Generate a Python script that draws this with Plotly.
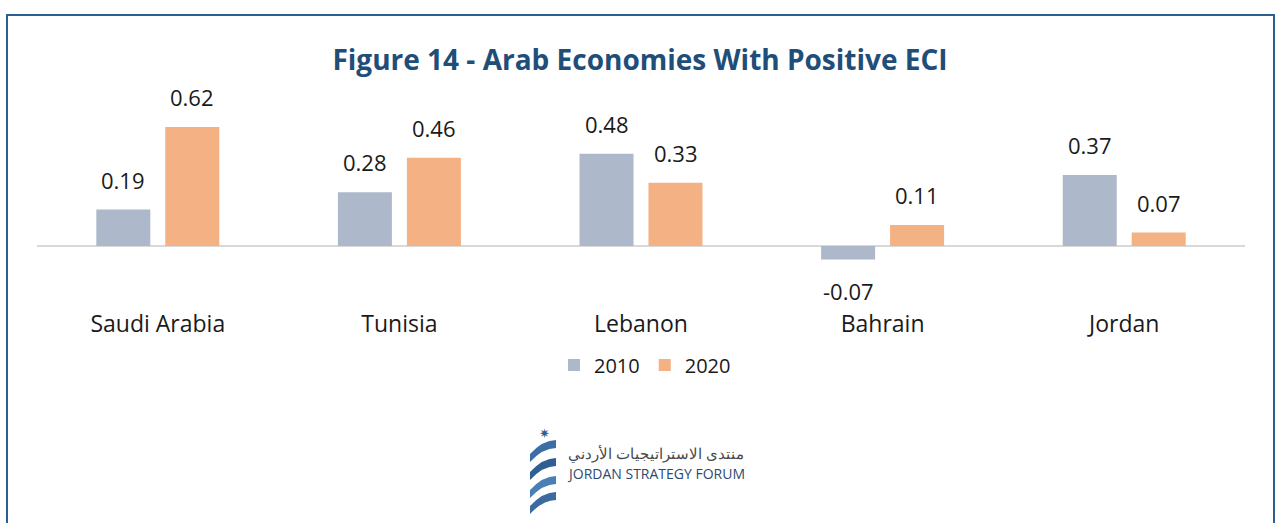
import plotly.graph_objects as go

categories = ["Saudi Arabia", "Tunisia", "Lebanon", "Bahrain", "Jordan"]
values_2010 = [0.19, 0.28, 0.48, -0.07, 0.37]
values_2020 = [0.62, 0.46, 0.33, 0.11, 0.07]
series_names = ["2010", "2020"]

COLOR_2010 = "#adb9ca"
COLOR_2020 = "#f4b183"
TITLE_COLOR = "#1f4e79"
FONT = "Open Sans"

W, H = 1276, 523

plot_top, plot_bottom = 90, 305          # page pixels
plot_left, plot_right = 37, 1245
zero_y = 246
px_per_unit = 192.0
y_max = (zero_y - plot_top) / px_per_unit
y_min = -(plot_bottom - zero_y) / px_per_unit

pw = plot_right - plot_left
ph = plot_bottom - plot_top


def P(x, y):
    """page pixel -> paper coords"""
    return (x - plot_left) / pw, (plot_bottom - y) / ph


fig = go.Figure()
for name, vals, col in [(series_names[0], values_2010, COLOR_2010),
                        (series_names[1], values_2020, COLOR_2020)]:
    fig.add_trace(go.Bar(x=categories, y=vals, name=name, marker_color=col,
                         marker_line_width=0, hoverinfo="x+y"))

# data labels
cat_w = pw / len(categories)
offset = 34.5 / cat_w
annotations = []
for si, vals in enumerate([values_2010, values_2020]):
    dx = -offset if si == 0 else offset
    for i, v in enumerate(vals):
        annotations.append(dict(
            x=i + dx, y=v, xref="x", yref="y", text=f"{v:.2f}",
            showarrow=False, yshift=30 if v >= 0 else -32,
            font=dict(family=FONT, size=22, color="#1a1a1a")))

# logo text
ax, ay = P(566, 453)
annotations.append(dict(x=ax, y=ay, xref="paper", yref="paper",
                        text="منتدى الاستراتيجيات الأردني", showarrow=False,
                        xanchor="left", yanchor="middle",
                        font=dict(family="Noto Sans", size=15, color="#4a4a4a")))
ax, ay = P(565, 473)
annotations.append(dict(x=ax, y=ay, xref="paper", yref="paper",
                        text="JORDAN STRATEGY FORUM", showarrow=False,
                        xanchor="left", yanchor="middle",
                        font=dict(family="Open Sans", size=14, color="#2e4a6e")))
ax, ay = P(544, 433)
annotations.append(dict(x=ax, y=ay, xref="paper", yref="paper",
                        text="✷", showarrow=False, xanchor="center", yanchor="middle",
                        font=dict(family="DejaVu Sans", size=13, color="#2f5f93")))

shapes = []
# outer frame (left, top, right sides)
fx0, fy0 = P(7, 560)
fx1, fy1 = P(1274, 15)
shapes.append(dict(type="path", xref="paper", yref="paper",
                   path=f"M {fx0},{fy0} L {fx0},{fy1} L {fx1},{fy1} L {fx1},{fy0}",
                   line=dict(color="#2a5f8f", width=2)))
# logo swooshes
for ytop, c in [(440, "#3b6ea5"), (458, "#2f5f93"), (476, "#4a7fb5"), (492, "#3a6aa0")]:
    x0, y0 = P(530, ytop + 14)
    x1, y1 = P(556, ytop)
    x2, y2 = P(556, ytop + 8)
    x3, y3 = P(530, ytop + 22)
    shapes.append(dict(type="path", xref="paper", yref="paper",
                       path=f"M {x0},{y0} Q {(x0+x1)/2},{y1} {x1},{y1} L {x2},{y2} Q {(x2+x3)/2},{y2} {x3},{y3} Z",
                       fillcolor=c, line=dict(width=0)))

lx, ly = P(645, 365)
fig.update_layout(
    width=W, height=H,
    margin=dict(l=plot_left, r=W - plot_right, t=plot_top, b=H - plot_bottom,
                autoexpand=False),
    paper_bgcolor="white", plot_bgcolor="white",
    title=dict(text="<b>Figure 14 - Arab Economies With Positive ECI</b>",
               x=640 / W, xanchor="center", y=1 - 60 / H, yanchor="middle",
               font=dict(family=FONT, size=28, color=TITLE_COLOR)),
    barmode="group", bargap=0.429, bargroupgap=0.217,
    xaxis=dict(showline=False, showgrid=False, ticks="", zeroline=False,
               tickfont=dict(family=FONT, size=23, color="#1a1a1a"), ticklabelstandoff=3),
    yaxis=dict(range=[y_min, y_max], showgrid=False, showticklabels=False, ticks="",
               zeroline=True, zerolinecolor="#d9d9d9", zerolinewidth=2, showline=False),
    legend=dict(orientation="h", x=lx, xanchor="center", y=ly,
                yanchor="middle", font=dict(family=FONT, size=20, color="#1a1a1a"),
                traceorder="normal", itemwidth=30),
    annotations=annotations, shapes=shapes, showlegend=True,
)

fig.write_html("out.html", config={"displayModeBar": False},
               post_script="document.body.style.margin='0';document.body.style.overflow='hidden';")
